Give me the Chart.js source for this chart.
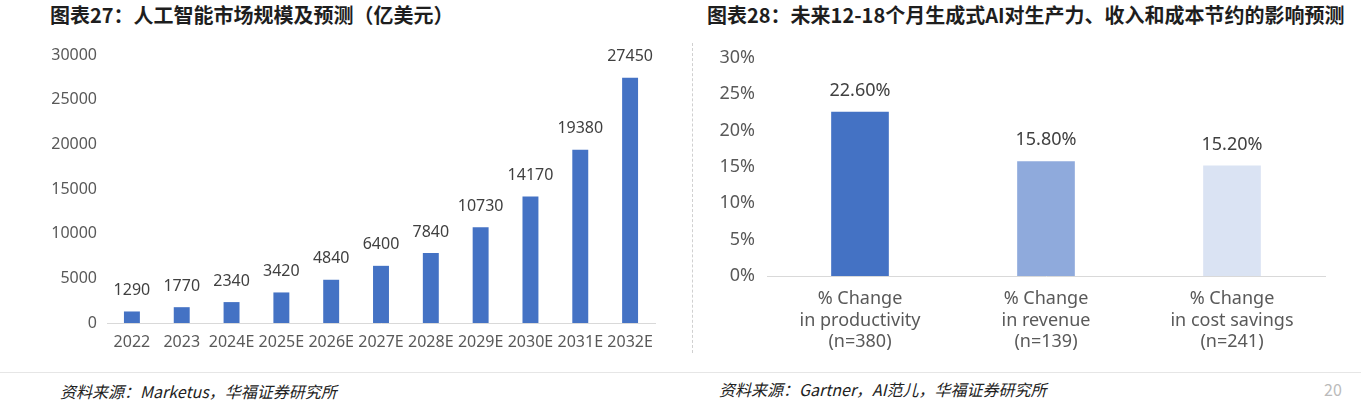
<!DOCTYPE html>
<html><head><meta charset="utf-8">
<script src="https://cdn.jsdelivr.net/npm/chart.js@4.4.1/dist/chart.umd.min.js"></script>
<style>
html,body{margin:0;padding:0;background:#fff;width:1361px;height:404px;overflow:hidden;}
.t{position:absolute;font-family:"Noto Sans CJK SC","Noto Sans",sans-serif;font-weight:700;font-size:20px;color:#1e1e1e;white-space:nowrap;line-height:1;}
.src{position:absolute;font-family:"Noto Sans CJK SC","Noto Sans",sans-serif;font-style:italic;font-size:16px;color:#222;white-space:nowrap;line-height:1;}
#sep{position:absolute;left:692px;top:43px;height:310px;border-left:1px dashed #d0d0d0;}
#hl{position:absolute;left:0;top:372px;width:1361px;border-top:1px solid #e6e6e6;}
canvas{position:absolute;}
</style></head><body>
<div class="t" style="left:50px;top:5px;">图表27：人工智能市场规模及预测（亿美元）</div>
<div class="t" style="left:707px;top:5px;">图表28：未来12-18个月生成式AI对生产力、收入和成本节约的影响预测</div>
<div id="sep"></div>
<div id="hl"></div>
<div class="src" style="left:60px;top:383px;">资料来源：Marketus，华福证券研究所</div>
<div class="src" style="left:719px;top:381px;">资料来源：Gartner，AI范儿，华福证券研究所</div>
<div class="src" style="left:1324px;top:381px;font-style:normal;color:#bbb;">20</div>
<div style="position:absolute;left:0;top:0;width:690px;height:360px;"><canvas id="c1" width="690" height="360"></canvas></div>
<div style="position:absolute;left:695px;top:0;width:666px;height:360px;"><canvas id="c2" width="666" height="360"></canvas></div>
<script>
const marketYears = ["2022","2023","2024E","2025E","2026E","2027E","2028E","2029E","2030E","2031E","2032E"];
const marketValues = [1290,1770,2340,3420,4840,6400,7840,10730,14170,19380,27450];
const impactCategories = [["% Change","in productivity","(n=380)"],["% Change","in revenue","(n=139)"],["% Change","in cost savings","(n=241)"]];
const impactValues = [22.6,15.8,15.2];
const impactColors = ["#4472C4","#8FAADC","#DAE3F3"];

const FONT = "'Noto Sans', sans-serif";

function labelPlugin(fmt, size){
  return {
    id:'vlabels',
    afterDatasetsDraw(chart){
      const ctx = chart.ctx;
      const meta = chart.getDatasetMeta(0);
      const data = chart.data.datasets[0].data;
      ctx.save();
      ctx.font = size + "px " + FONT;
      ctx.fillStyle = "#404040";
      ctx.textAlign = "center";
      ctx.textBaseline = "middle";
      meta.data.forEach((bar,i)=>{
        ctx.fillText(fmt(data[i]), bar.x, bar.y - 21);
      });
      ctx.restore();
    }
  };
}

new Chart(document.getElementById('c1'),{
  type:'bar',
  data:{labels:marketYears,datasets:[{data:marketValues,backgroundColor:"#4472C4",categoryPercentage:1,barPercentage:0.32}]},
  options:{
    responsive:false,animation:false,
    layout:{padding:{left:0,right:35,top:55,bottom:0}},
    plugins:{legend:{display:false},tooltip:{enabled:false}},
    scales:{
      x:{grid:{display:false,drawTicks:false},border:{display:true,color:"#d9d9d9",width:1},
         ticks:{color:"#595959",font:{family:FONT,size:16},padding:10,autoSkip:false,maxRotation:0},
         afterFit(s){s.height=37;}},
      y:{min:0,max:30000,grid:{display:false,drawTicks:false},border:{display:false},
         ticks:{stepSize:5000,color:"#595959",font:{family:FONT,size:16},padding:10,callback:v=>String(v)},
         afterFit(s){s.width=107;}}
    }
  },
  plugins:[labelPlugin(v=>String(v),16)]
});

new Chart(document.getElementById('c2'),{
  type:'bar',
  data:{labels:impactCategories,datasets:[{data:impactValues,backgroundColor:impactColors,categoryPercentage:1,barPercentage:0.31}]},
  options:{
    responsive:false,animation:false,
    layout:{padding:{left:0,right:36,top:58,bottom:0}},
    plugins:{legend:{display:false},tooltip:{enabled:false}},
    scales:{
      x:{grid:{display:false,drawTicks:false},border:{display:true,color:"#d9d9d9",width:1},
         ticks:{color:"#595959",font:{family:FONT,size:18,lineHeight:1.2},padding:12,autoSkip:false,maxRotation:0},
         afterFit(s){s.height=84;}},
      y:{min:0,max:30,grid:{display:false,drawTicks:false},border:{display:false},
         ticks:{stepSize:5,color:"#595959",font:{family:FONT,size:18},padding:12,callback:v=>v+'%'},
         afterFit(s){s.width=72;}}
    }
  },
  plugins:[labelPlugin(v=>v.toFixed(2)+'%',18)]
});
</script>
</body></html>
